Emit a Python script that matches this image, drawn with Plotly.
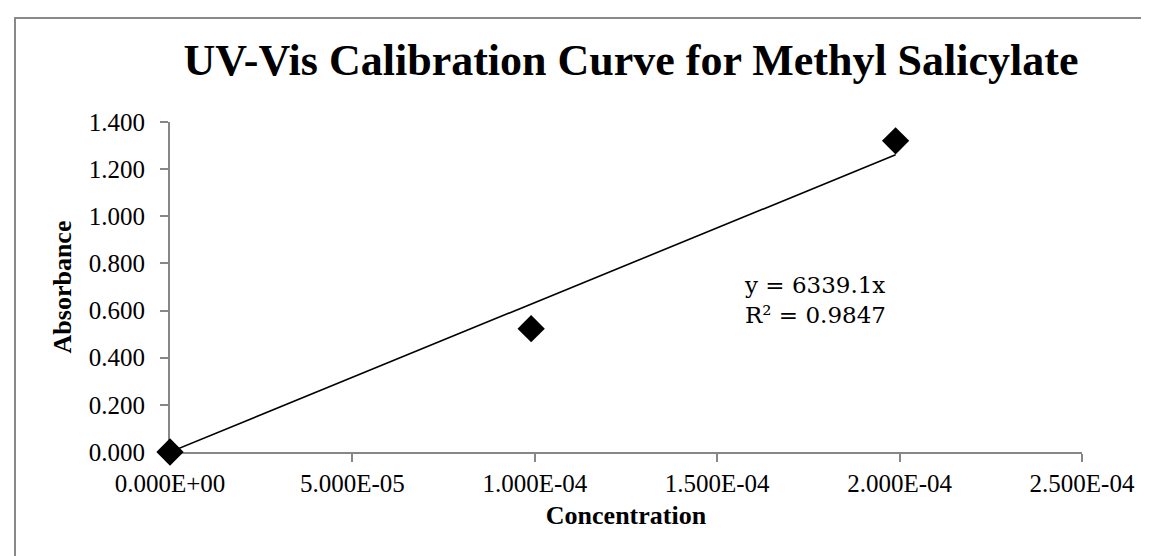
import plotly.graph_objects as go

# Data
concentration = [0.0, 9.9e-05, 1.989e-04]
absorbance = [0.000, 0.523, 1.320]
slope = 6339.1
r_squared = 0.9847
x_tick_vals = [0.0, 5e-05, 1e-04, 1.5e-04, 2e-04, 2.5e-04]
x_tick_text = ["0.000E+00", "5.000E-05", "1.000E-04", "1.500E-04", "2.000E-04", "2.500E-04"]
y_tick_vals = [0.0, 0.2, 0.4, 0.6, 0.8, 1.0, 1.2, 1.4]

W, H = 1149, 556
L, R, T, B = 162, 75, 114, 112
pw, ph = W - L - R, H - T - B

trend_x = [0.0, max(concentration)]
trend_y = [slope * v for v in trend_x]

fig = go.Figure()
fig.add_trace(go.Scatter(x=trend_x, y=trend_y, mode="lines",
                         line=dict(color="black", width=1.6), showlegend=False, hoverinfo="skip"))
fig.add_trace(go.Scatter(x=concentration, y=absorbance, mode="markers",
                         marker=dict(symbol="diamond", size=21, color="black", line=dict(width=0)),
                         showlegend=False, cliponaxis=False))

serif = "Liberation Serif, Times New Roman, serif"
axis_color = "#878787"

fig.update_layout(
    width=W, height=H,
    margin=dict(l=L, r=R, t=T, b=B),
    paper_bgcolor="white", plot_bgcolor="white",
    title=dict(text="<b>UV-Vis Calibration Curve for Methyl Salicylate</b>",
               font=dict(family=serif, size=44, color="black"),
               x=623 / W, xanchor="center", y=1 - 52 / H, yanchor="middle"),
    xaxis=dict(range=[0, 2.5e-04], tickvals=x_tick_vals, ticktext=x_tick_text,
               showgrid=False, zeroline=False, showline=True, linecolor=axis_color, linewidth=2,
               ticks="outside", tickcolor=axis_color, ticklen=8, tickwidth=2, layer="below traces",
               tickfont=dict(family=serif, size=25, color="black"),
               title=dict(text="<b>Concentration</b>", font=dict(family=serif, size=26, color="black"),
                          standoff=10)),
    yaxis=dict(range=[0, 1.4], tickvals=y_tick_vals, tickformat=".3f",
               showgrid=False, zeroline=False, showline=True, linecolor=axis_color, linewidth=2,
               ticks="outside", tickcolor=axis_color, ticklen=8, tickwidth=2, ticklabelstandoff=10,
               layer="below traces",
               tickfont=dict(family=serif, size=25, color="black"),
               title=dict(text="<b>Absorbance</b>", font=dict(family=serif, size=26, color="black"),
                          standoff=10)),
    annotations=[dict(x=1.968e-04, y=0.645, xref="x", yref="y",
                      text=f"y = {slope}x<br>R² = {r_squared}", showarrow=False,
                      xanchor="right", yanchor="middle", align="left",
                      font=dict(family="DejaVu Serif, serif", size=23, color="black"))],
    shapes=[dict(type="rect", xref="paper", yref="paper",
                 x0=(7 - L) / pw, x1=(W + 20 - L) / pw,
                 y0=-(H + 20 - T - ph) / ph, y1=1 + (T - 10) / ph,
                 line=dict(color="#898989", width=2), fillcolor="rgba(0,0,0,0)", layer="below")],
)

fig.write_html("out.html")
